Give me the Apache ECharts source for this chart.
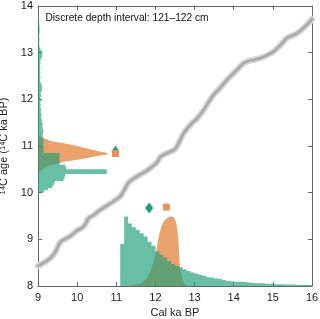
<!DOCTYPE html>
<html>
<head>
<meta charset="utf-8">
<script src="https://cdn.jsdelivr.net/npm/echarts@6/dist/echarts.min.js"></script>
<style>
html,body{margin:0;padding:0;background:#fff;}
#chart{width:320px;height:319px;}
</style>
</head>
<body>
<div id="chart"></div>
<script>
// ---- Data ----
const xTicks = [9, 10, 11, 12, 13, 14, 15, 16];
const yTicks = [8, 9, 10, 11, 12, 13, 14];
const titleText = 'Discrete depth interval: 121\u2013122 cm';

// Calibration curve (cal ka BP, 14C ka BP)
const curveX = [9.00,9.19,9.32,9.45,9.57,9.70,9.83,10.00,10.13,10.22,10.29,10.42,10.59,10.85,11.10,11.20,11.30,11.42,11.61,11.78,11.95,12.05,12.13,12.30,12.46,12.55,12.72,12.89,13.06,13.23,13.48,13.65,13.82,14.08,14.25,14.37,14.59,14.76,15.01,15.27,15.35,15.61,15.86,16.00];
const curveY = [8.43,8.52,8.60,8.74,8.94,9.01,9.07,9.19,9.25,9.34,9.45,9.52,9.63,9.77,9.92,10.05,10.20,10.29,10.39,10.47,10.58,10.66,10.77,10.85,10.91,10.99,11.27,11.45,11.59,11.77,12.09,12.24,12.41,12.63,12.77,12.82,12.86,12.91,13.02,13.23,13.31,13.41,13.59,13.72];

// Left histogram: 14C age bins (start, width 0.05) and extent on cal axis
const leftBinStart = [10.00,10.05,10.10,10.15,10.20,10.25,10.30,10.35,10.40,10.45,10.50,10.55,10.60,10.65,10.70,10.75,10.80,10.85,10.90,10.95,11.00,11.05,11.10,11.15,11.20,11.25,11.30,11.35,11.40,11.45,11.50,11.55,11.60,11.65,11.70,11.75,11.80,11.85,11.90,11.95,12.00,12.05,12.10,12.15,12.20,12.25,12.30,12.35,12.40,12.45,12.50,12.55,12.60,12.65,12.70,12.75,12.80,12.85,12.90,12.95,13.00,13.05,13.10,13.15,13.20,13.25,13.30,13.35,13.40,13.45,13.50,13.55,13.60,13.65,13.70];
const leftBinValue = [9.15,9.26,9.36,9.40,9.43,9.65,9.68,9.70,10.76,10.76,9.72,9.70,9.55,9.55,9.55,9.55,9.55,9.14,9.14,9.14,9.14,9.14,9.14,9.13,9.12,9.13,9.14,9.12,9.11,9.12,9.10,9.09,9.08,9.09,9.07,9.08,9.06,9.07,9.06,9.07,9.06,9.08,9.07,9.09,9.10,9.10,9.08,9.06,9.05,9.06,9.05,9.06,9.05,9.06,9.05,9.06,9.06,9.08,9.11,9.11,9.10,9.06,9.04,9.03,9.03,9.04,9.03,9.03,9.04,9.04,9.04,9.04,9.03,9.03,9.02];
const leftBinWidth = 0.05;

// Left density (14C age, extent on cal axis)
const leftDensY = [11.22,11.19,11.15,11.10,11.06,11.02,10.98,10.93,10.89,10.85,10.82,10.79,10.75,10.72,10.69,10.66,10.62,10.59,10.56,10.53,10.48,10.42];
const leftDensX = [9.00,9.11,9.20,9.34,9.66,9.88,10.10,10.33,10.55,10.78,10.76,10.54,10.30,10.10,9.88,9.66,9.48,9.33,9.22,9.15,9.09,9.00];

// Bottom histogram: cal bins (start, width 0.1) and 14C height
const botBinStart = [11.1,11.2,11.3,11.4,11.5,11.6,11.7,11.8,11.9,12.0,12.1,12.2,12.3,12.4,12.5,12.6,12.7,12.8,12.9,13.0,13.1,13.2,13.3,13.4,13.5,13.6,13.7,13.8,13.9,14.0,14.1,14.2,14.3,14.4,14.5,14.6,14.7,14.8,14.9,15.0,15.1,15.2,15.3,15.4,15.5,15.6,15.7,15.8,15.9];
const botBinValue = [8.90,9.49,9.34,9.26,9.20,9.13,9.06,8.95,8.86,8.74,8.67,8.61,8.53,8.47,8.43,8.40,8.36,8.32,8.29,8.26,8.24,8.22,8.19,8.18,8.16,8.15,8.13,8.11,8.10,8.09,8.09,8.09,8.08,8.07,8.06,8.06,8.06,8.05,8.05,8.04,8.04,8.04,8.03,8.03,8.03,8.02,8.02,8.02,8.02];
const botBinWidth = 0.1;

// Bottom density (cal age, height on 14C axis)
const botDensX = [11.35,11.50,11.65,11.78,11.88,11.96,12.02,12.07,12.12,12.20,12.30,12.40,12.47,12.52,12.56,12.59,12.61,12.64,12.68,12.73,12.80];
const botDensY = [8.00,8.03,8.07,8.17,8.33,8.55,8.75,8.98,9.18,9.36,9.45,9.49,9.47,9.38,9.20,8.95,8.63,8.35,8.18,8.07,8.00];

// Point estimates
const diamondPts = [[10.98, 10.89], [11.84, 9.67]];
const squarePts = [[10.98, 10.84], [12.28, 9.69]];

// ---- Styling ----
const FONT = 'Liberation Sans, Arial, Helvetica, sans-serif';
const GREEN = 'rgba(27,158,119,0.66)';
const ORANGE = 'rgba(217,95,2,0.58)';
const AXIS_COLOR = '#666';
const X0 = xTicks[0], Y0 = yTicks[0];

const chart = echarts.init(document.getElementById('chart'), null, {renderer: 'canvas'});

function axisCommon(extra) {
  return Object.assign({
    type: 'value',
    splitLine: {show: false},
    axisLine: {show: true, onZero: false, lineStyle: {color: AXIS_COLOR, width: 1}},
    axisTick: {show: true, inside: true, length: 4, lineStyle: {color: AXIS_COLOR}},
  }, extra);
}

const curveData = curveX.map((x, i) => [x, curveY[i]]);

const option = {
  animation: false,
  grid: {left: 38, right: 8, top: 6, bottom: 33, containLabel: false, outerBoundsMode: 'none'},
  xAxis: [
    axisCommon({
      min: xTicks[0], max: xTicks[xTicks.length - 1], interval: 1, position: 'bottom',
      name: 'Cal ka BP', nameLocation: 'middle', nameGap: 19,
      nameTextStyle: {fontFamily: FONT, fontSize: 11, color: '#222'},
      axisLabel: {fontFamily: FONT, fontSize: 11, color: '#222', margin: 6}
    }),
    axisCommon({
      min: xTicks[0], max: xTicks[xTicks.length - 1], interval: 1, position: 'top',
      axisLabel: {show: false}
    })
  ],
  yAxis: [
    axisCommon({
      min: yTicks[0], max: yTicks[yTicks.length - 1], interval: 1, position: 'left',
      name: '{sup|14}C age ({sup|14}C ka BP)', nameLocation: 'middle', nameGap: 23,
      nameTextStyle: {fontFamily: FONT, fontSize: 11, color: '#222',
        rich: {sup: {fontFamily: FONT, fontSize: 7.5, color: '#222', verticalAlign: 'top'}}},
      axisLabel: {fontFamily: FONT, fontSize: 11, color: '#222', margin: 5}
    }),
    axisCommon({
      min: yTicks[0], max: yTicks[yTicks.length - 1], interval: 1, position: 'right',
      axisLabel: {show: false}
    })
  ],
  graphic: [{
    type: 'text', x: 45.5, y: 18,
    style: {text: titleText, fontFamily: FONT, fontSize: 10.2, fill: '#111', verticalAlign: 'middle', align: 'left'}
  }],
  series: [
    // calibration curve band
    {type: 'line', data: curveData, symbol: 'none', smooth: 0.3, silent: true,
     lineStyle: {color: '#dcdcdc', width: 6.5, cap: 'round', join: 'round'}, z: 1},
    {type: 'line', data: curveData, symbol: 'none', smooth: 0.3, silent: true,
     lineStyle: {color: '#b8b8b8', width: 3.5, cap: 'round', join: 'round'}, z: 1},
    {type: 'line', data: curveData, symbol: 'none', smooth: 0.3, silent: true,
     lineStyle: {color: '#a4a4a4', width: 1.2, cap: 'round', join: 'round'}, z: 1},
    // left orange density (horizontal, from x axis min)
    {type: 'custom', silent: true, z: 2,
     data: leftDensY.map((y, i) => [leftDensX[i], y]),
     renderItem: function (params, api) {
       if (params.dataIndex !== 0) return null;
       const pts = [];
       pts.push(api.coord([X0, leftDensY[0]]));
       for (let i = 0; i < leftDensY.length; i++) pts.push(api.coord([leftDensX[i], leftDensY[i]]));
       pts.push(api.coord([X0, leftDensY[leftDensY.length - 1]]));
       return {type: 'polygon', shape: {points: pts, smooth: 0}, style: {fill: ORANGE}};
     }},
    // bottom orange density
    {type: 'line', data: botDensX.map((x, i) => [x, botDensY[i]]), symbol: 'none', smooth: 0.35, silent: true, z: 2,
     lineStyle: {width: 0, color: ORANGE}, areaStyle: {color: ORANGE, opacity: 1, origin: 'start'}},
    // left green histogram (horizontal)
    {type: 'custom', silent: true, z: 3,
     data: leftBinStart.map((y, i) => [leftBinValue[i], y]),
     renderItem: function (params, api) {
       if (params.dataIndex !== 0) return null;
       const pts = [];
       const n = leftBinStart.length;
       pts.push(api.coord([X0, leftBinStart[0]]));
       for (let i = 0; i < n; i++) {
         pts.push(api.coord([leftBinValue[i], leftBinStart[i]]));
         pts.push(api.coord([leftBinValue[i], leftBinStart[i] + leftBinWidth]));
       }
       pts.push(api.coord([X0, leftBinStart[n - 1] + leftBinWidth]));
       return {type: 'polygon', shape: {points: pts}, style: {fill: GREEN}};
     }},
    // bottom green histogram
    {type: 'custom', silent: true, z: 3,
     data: botBinStart.map((x, i) => [x, botBinValue[i]]),
     renderItem: function (params, api) {
       if (params.dataIndex !== 0) return null;
       const pts = [];
       const n = botBinStart.length;
       pts.push(api.coord([botBinStart[0], Y0]));
       for (let i = 0; i < n; i++) {
         pts.push(api.coord([botBinStart[i], botBinValue[i]]));
         pts.push(api.coord([botBinStart[i] + botBinWidth, botBinValue[i]]));
       }
       pts.push(api.coord([botBinStart[n - 1] + botBinWidth, Y0]));
       return {type: 'polygon', shape: {points: pts}, style: {fill: GREEN}};
     }},
    // markers
    {type: 'scatter', data: diamondPts, symbol: 'diamond', symbolSize: [8, 11], silent: true, z: 4,
     itemStyle: {color: '#1b9e77', opacity: 1}},
    {type: 'scatter', data: squarePts, symbol: 'rect', symbolSize: [7, 7], silent: true, z: 5,
     itemStyle: {color: '#e3955f', opacity: 1}}
  ]
};
chart.setOption(option);
</script>
</body>
</html>
